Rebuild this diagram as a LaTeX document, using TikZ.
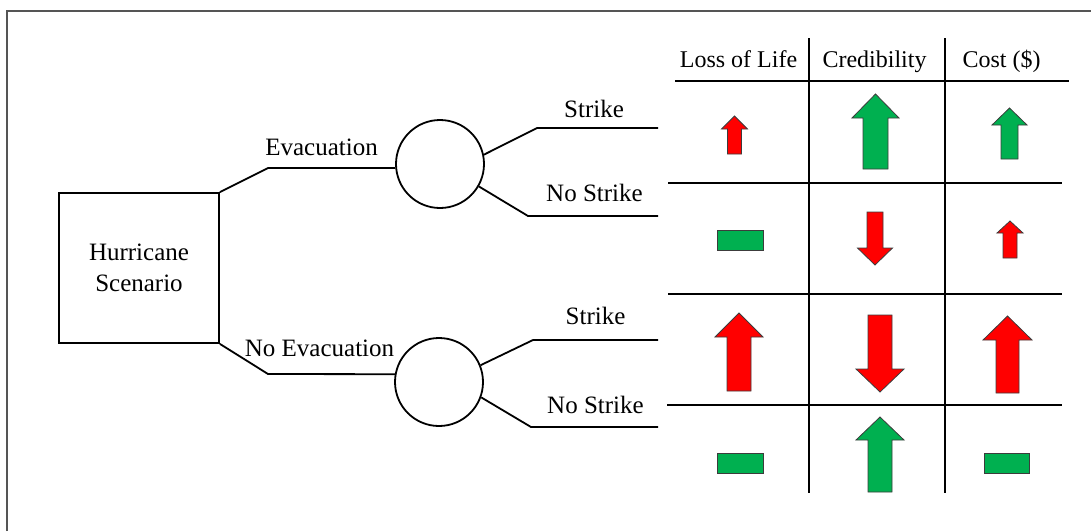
\documentclass[tikz,border=0pt]{standalone}
\usepackage{fontspec}
\setmainfont{Liberation Serif}
\usepackage{tikz}

\definecolor{upred}{RGB}{255,0,0}
\definecolor{okgreen}{RGB}{0,176,80}
\definecolor{rimgray}{RGB}{60,60,60}
\definecolor{framegray}{RGB}{85,85,85}

\tikzset{
  lbl/.style={anchor=base, inner sep=0pt, font=\fontsize{25}{32}\selectfont},
  hdr/.style={anchor=base, inner sep=0pt, font=\fontsize{24}{30}\selectfont},
  decbox/.style={draw, line width=1.8pt, minimum width=160pt, minimum height=150pt,
    align=center, font=\fontsize{25}{31}\selectfont},
  chance/.style={draw, circle, line width=1.8pt, minimum size=88pt, inner sep=0pt},
  branch/.style={line width=1.8pt},
  grid/.style={line width=2pt},
  arrowfill/.style={fill=#1, draw=rimgray, line width=0.8pt}
}

% block arrow: colour, centre x, tail y, head base y, tip y, half shaft, half head
\newcommand{\blockarrow}[7]{%
  \filldraw[arrowfill=#1] ({#2-#6},#3) -- ({#2-#6},#4) -- ({#2-#7},#4) -- (#2,#5)
    -- ({#2+#7},#4) -- ({#2+#6},#4) -- ({#2+#6},#3) -- cycle;}

\begin{document}
\begin{tikzpicture}[x=1pt, y=-1pt]
\useasboundingbox (0,0) rectangle (1091,531);

% frame
\draw[framegray, line width=1.5pt] (7,531) -- (7,11) -- (1091,11);

% decision tree
\node[decbox] (scen) at (139,268) {Hurricane\\Scenario};
\node[chance] (ev) at (440,164) {};
\node[chance] (noev) at (439,382) {};

\coordinate (s1) at (658,128);
\coordinate (n1) at (658,216);
\coordinate (s2) at (658,340);
\coordinate (n2) at (658,427);

\draw[branch] (scen.north east) -- (268,168) -- (ev.185);
\draw[branch] (scen.south east) -- (268,374) -- (noev.170);
\draw[branch] (ev.12) -- (537,128) -- (s1);
\draw[branch] (ev.-30) -- (528,216) -- (n1);
\draw[branch] (noev.22) -- (533,340) -- (s2);
\draw[branch] (noev.-20) -- (531,427) -- (n2);

\node[lbl] (evlbl) at (321.5,155) {Evacuation};
\node[lbl] (noevlbl) at (319.5,356) {No Evacuation};
\node[lbl] (s1lbl) at (594,117) {Strike};
\node[lbl] (n1lbl) at (594.5,201) {No Strike};
\node[lbl] (s2lbl) at (595.5,324) {Strike};
\node[lbl] (n2lbl) at (595.5,413) {No Strike};

% outcome table
\node[hdr] (life) at (738.5,67) {Loss of Life};
\node[hdr] (cred) at (874.5,67) {Credibility};
\node[hdr] (cost) at (1001.5,67) {Cost (\$)};

\draw[grid] (675,81) -- (1069,81);
\draw[grid] (668,183) -- (1062,183);
\draw[grid] (668,294) -- (1062,294);
\draw[grid] (667,405) -- (1062,405);
\draw[grid] (809,38) -- (809,493);
\draw[grid] (945,38) -- (945,493);

% strike after evacuation
\blockarrow{upred}{734.5}{154}{129}{116}{7}{13}
\blockarrow{okgreen}{875.5}{169}{118}{94}{12.5}{23.5}
\blockarrow{okgreen}{1009.5}{159}{125}{108}{8.5}{17.5}

% no strike after evacuation
\filldraw[arrowfill=okgreen] (717,230) rectangle (763,250);
\blockarrow{upred}{875}{212}{248}{265}{8}{17.5}
\blockarrow{upred}{1010}{258}{233}{221}{7}{13}

% strike without evacuation
\blockarrow{upred}{739}{391}{337}{313}{12}{24}
\blockarrow{upred}{880}{315}{369}{392}{12}{24}
\blockarrow{upred}{1007.5}{393}{340}{316}{11.5}{24.5}

% no strike without evacuation
\filldraw[arrowfill=okgreen] (717,453) rectangle (763,473);
\blockarrow{okgreen}{880}{492}{440}{417}{12}{24}
\filldraw[arrowfill=okgreen] (984,453) rectangle (1029,473);

\end{tikzpicture}
\end{document}
